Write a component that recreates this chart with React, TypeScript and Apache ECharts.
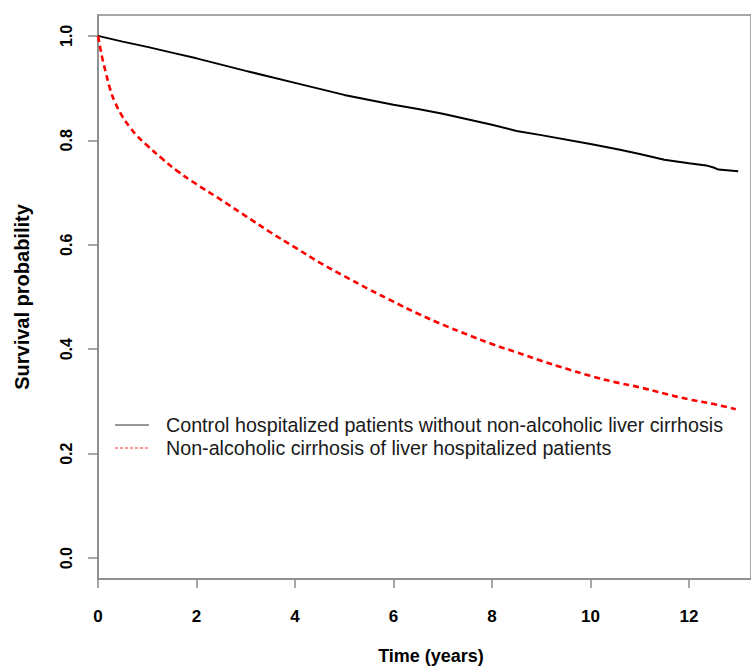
import React, { useEffect, useRef } from "react";
import * as echarts from "echarts";

const seriesNames = [
  "Control hospitalized patients without non-alcoholic liver cirrhosis",
  "Non-alcoholic cirrhosis of liver hospitalized patients",
];

const timeControl = [0, 0.5, 1, 1.5, 2, 3, 4, 5, 6, 6.5, 7, 8, 8.5, 9, 10, 10.6, 11, 11.5, 12, 12.35, 12.5, 12.6, 13];
const survControl = [1.0, 0.989, 0.979, 0.968, 0.957, 0.933, 0.91, 0.887, 0.868, 0.86, 0.851, 0.83, 0.818, 0.81, 0.793, 0.782, 0.774, 0.763, 0.756, 0.752, 0.748, 0.744, 0.741];

const timeCirr = [0, 0.02, 0.05, 0.1, 0.15, 0.25, 0.35, 0.5, 0.65, 0.8, 1, 1.3, 1.6, 2, 2.5, 3, 3.5, 4, 4.5, 5, 5.5, 6, 6.5, 7, 7.5, 8, 8.5, 9, 9.5, 10, 10.5, 11, 11.5, 12, 12.5, 12.95];
const survCirr = [1.0, 0.99, 0.975, 0.952, 0.933, 0.897, 0.872, 0.845, 0.825, 0.808, 0.79, 0.765, 0.742, 0.716, 0.686, 0.655, 0.624, 0.595, 0.566, 0.54, 0.515, 0.491, 0.468, 0.447, 0.428, 0.41, 0.394, 0.378, 0.363, 0.349, 0.337, 0.327, 0.315, 0.304, 0.295, 0.285];

const xTicks = [0, 2, 4, 6, 8, 10, 12];
const yTicks = [0, 0.2, 0.4, 0.6, 0.8, 1.0];

const FONT = "'Liberation Sans', Arial, Helvetica, sans-serif";
const AXIS_GRAY = "#8a8a8a";

export default function App() {
  const ref = useRef<HTMLDivElement>(null);

  useEffect(() => {
    if (!ref.current) return;
    const chart = echarts.init(ref.current, undefined, { renderer: "svg" });
    const pair = (t: number[], v: number[]) => t.map((x, i) => [x, v[i]]);

    const legendItems = [
      { y: 425, stroke: "#333333", dash: null as number[] | null },
      { y: 448, stroke: "#ff3030", dash: [3, 2] },
    ];
    const graphic: any[] = [];
    legendItems.forEach((it, i) => {
      graphic.push({
        type: "line",
        silent: true,
        shape: { x1: 115, y1: it.y, x2: 149, y2: it.y },
        style: { stroke: it.stroke, lineWidth: 1, lineDash: it.dash || undefined },
      });
      graphic.push({
        type: "text",
        silent: true,
        x: 166,
        y: it.y,
        style: {
          text: seriesNames[i],
          fontSize: 19.7,
          fontFamily: FONT,
          fill: "#1a1a1a",
          verticalAlign: "middle",
          align: "left",
        },
      });
    });

    chart.setOption({
      animation: false,
      backgroundColor: "#ffffff",
      textStyle: { fontFamily: FONT },
      grid: {
        left: 98,
        top: 15,
        right: 0,
        bottom: 89,
        show: true,
        borderColor: AXIS_GRAY,
        borderWidth: 1.5,
        containLabel: false,
      },
      graphic,
      xAxis: {
        type: "value",
        min: 0,
        max: 13.26,
        name: "Time (years)",
        nameLocation: "middle",
        nameGap: 68,
        nameTextStyle: {
          fontSize: 18,
          fontWeight: "bold",
          color: "#000",
          fontFamily: FONT,
          padding: [0, 0, 0, 13],
        },
        axisLine: { show: true, onZero: false, lineStyle: { color: AXIS_GRAY, width: 1.5 } },
        axisTick: { show: true, inside: false, length: 9, customValues: xTicks, lineStyle: { color: AXIS_GRAY, width: 1.5 } },
        axisLabel: {
          customValues: xTicks,
          margin: 29,
          fontSize: 17,
          fontWeight: "bold",
          color: "#000",
          fontFamily: FONT,
        },
        splitLine: { show: false },
      },
      yAxis: {
        type: "value",
        min: -0.04,
        max: 1.04,
        name: "Survival probability",
        nameLocation: "middle",
        nameGap: 66,
        nameTextStyle: { fontSize: 20, fontWeight: "bold", color: "#000", fontFamily: FONT },
        axisLine: { show: true, onZero: false, lineStyle: { color: AXIS_GRAY, width: 1.5 } },
        axisTick: { show: true, inside: false, length: 10, customValues: yTicks, lineStyle: { color: AXIS_GRAY, width: 1.5 } },
        axisLabel: {
          customValues: yTicks,
          rotate: 90,
          margin: 24,
          fontSize: 16,
          fontWeight: "bold",
          color: "#000",
          fontFamily: FONT,
          formatter: (v: number) => v.toFixed(1),
        },
        splitLine: { show: false },
      },
      series: [
        {
          name: seriesNames[0],
          type: "line",
          data: pair(timeControl, survControl),
          symbol: "none",
          smooth: false,
          lineStyle: { color: "#000", width: 2 },
          itemStyle: { color: "#000" },
        },
        {
          name: seriesNames[1],
          type: "line",
          data: pair(timeCirr, survCirr),
          symbol: "none",
          smooth: true,
          lineStyle: { color: "#ff0000", width: 2.6, type: [6, 4] },
          itemStyle: { color: "#ff0000" },
        },
      ],
    });

    return () => chart.dispose();
  }, []);

  return (
    <div
      ref={ref}
      style={{ position: "fixed", left: 0, top: 0, width: 751, height: 670, background: "#fff" }}
    />
  );
}
